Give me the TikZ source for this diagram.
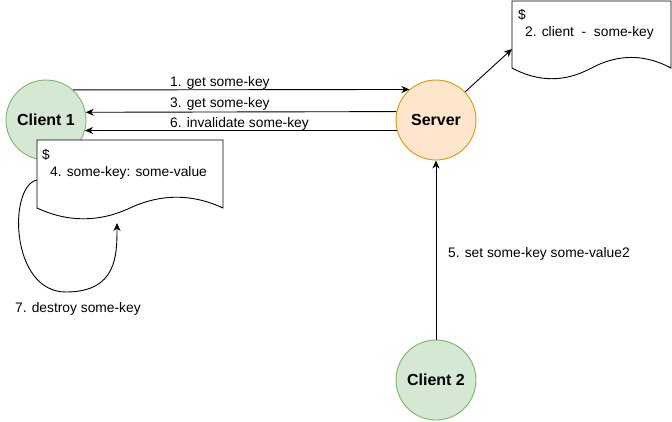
\documentclass[tikz,border=0pt]{standalone}
\usepackage{fontspec}
\setmainfont{Liberation Sans}
\usetikzlibrary{arrows.meta}
\definecolor{greenfill}{HTML}{D5E8D4}
\definecolor{greenline}{HTML}{82B366}
\definecolor{orangefill}{HTML}{FFE6CC}
\definecolor{orangeline}{HTML}{D79B00}
\begin{document}
\begin{tikzpicture}[x=1pt,y=-1pt,
  client/.style={circle,draw=greenline,fill=greenfill,line width=0.9pt,minimum size=80pt,inner sep=0pt,font=\fontsize{16}{19}\selectfont\bfseries},
  server/.style={circle,draw=orangeline,fill=orangefill,line width=0.9pt,minimum size=80pt,inner sep=0pt,font=\fontsize{16}{19}\selectfont\bfseries},
  lbl/.style={anchor=base west,inner sep=0pt,font=\fontsize{13.8}{16}\selectfont},
  doc/.style={draw=black,fill=white,line width=0.9pt},
  arr/.style={draw=black,line width=0.9pt,-{Stealth[length=8pt,width=7pt,inset=2.5pt]}}]
\useasboundingbox (0,0) rectangle (672,421);
% nodes
\node[client] (c1) at (46,120) {Client 1};
\node[server] (srv) at (436,120) {Server};
\node[client] (c2) at (436,380) {Client 2};
% document 1 (client cache)
\path[doc] (37,140) -- (223,140) -- (223,208)
  .. controls (192,193.6) and (161,193.6) .. (130,208)
  .. controls (99,222.4) and (68,222.4) .. (37,208) -- cycle;
\node[lbl] (d1a) at (42,159) {\$};
\node[lbl] (d1b) at (50,176) {4. some-key: some-value};
% document 2 (server registry)
\path[doc] (512,1) -- (671,1) -- (671,68)
  .. controls (644.5,53.9) and (618,53.9) .. (591.5,68)
  .. controls (565,82.3) and (538.5,82.3) .. (512,68) -- cycle;
\node[lbl] (d2a) at (518,19) {\$};
\node[lbl] (d2b) at (525,36) {2. client\ \ -\ \ some-key};
\coordinate (d2w) at (512,49);
% edges
\draw[arr] (c1.48.6) -- (srv.131.4);
\node[lbl] (l1) at (170,86.5) {1. get some-key};
\draw[arr] (srv.168.5) -- (c1.11.5);
\node[lbl] (l3) at (170,107) {3. get some-key};
\draw[arr] (srv.195.2) -- (c1.-15.2);
\node[lbl] (l6) at (170,127) {6. invalidate some-key};
\draw[arr] (srv.44) -- (d2w);
\draw[arr] (c2.north) -- (srv.south);
\node[lbl] (l5) at (448,257) {5. set some-key some-value2};
% loop
\coordinate (lp1) at (37,180);
\coordinate (lp2) at (117,223);
\draw[arr] (lp1) .. controls (8,186) and (10,292) .. (66,292)
  .. controls (117,292) and (117,255) .. (lp2);
\node[lbl] (l7) at (15,312) {7. destroy some-key};
\end{tikzpicture}
\end{document}
